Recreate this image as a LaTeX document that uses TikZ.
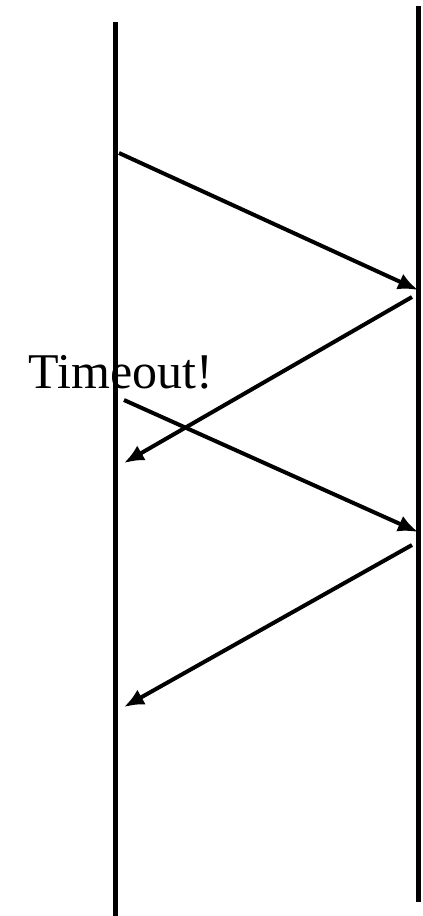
\documentclass[tikz,border=0pt]{standalone}
\usepackage{fontspec}
\setmainfont{Liberation Serif}
\usetikzlibrary{arrows.meta}

\begin{document}
\begin{tikzpicture}[x=1pt, y=-1pt,
  timeline/.style={line width=5pt},
  msg/.style={line width=4pt, -{Latex[length=20pt, width=17pt]}}]

\useasboundingbox (0,0) rectangle (423,916);

% ── Timelines ──
\coordinate (senderTop) at (115, 22);
\coordinate (senderBot) at (115, 916);
\coordinate (recvTop) at (418, 6);
\coordinate (recvBot) at (418, 902);
\draw[timeline] (senderTop) -- (senderBot);
\draw[timeline] (recvTop) -- (recvBot);

% ── Message ends ──
\coordinate (sendA) at (119, 153);
\coordinate (recvA) at (418, 290);
\coordinate (ackA) at (412, 297);
\coordinate (gotA) at (124, 463);
\coordinate (sendB) at (124, 400);
\coordinate (recvB) at (418, 532);
\coordinate (ackB) at (412, 545);
\coordinate (gotB) at (124, 707);

% ── Messages ──
\draw[msg] (sendA) -- (recvA);
\draw[msg] (ackA) -- (gotA);
\draw[msg] (sendB) -- (recvB);
\draw[msg] (ackB) -- (gotB);

% Timeout label
\node[font=\fontsize{50}{60}\selectfont, anchor=base, inner sep=0pt] (timeout) at (121, 388) {Timeout!};

\end{tikzpicture}
\end{document}
